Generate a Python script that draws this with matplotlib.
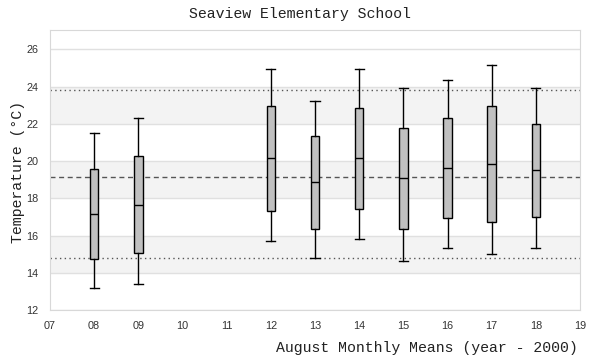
import matplotlib
matplotlib.use("Agg")
import matplotlib.pyplot as plt

years = [8, 9, 12, 13, 14, 15, 16, 17, 18]
whislo = [13.16, 13.38, 15.69, 14.78, 15.80, 14.62, 15.31, 14.99, 15.31]
q1 = [14.72, 15.04, 17.30, 16.33, 17.41, 16.33, 16.92, 16.71, 16.98]
med = [17.16, 17.64, 20.15, 18.86, 20.15, 19.07, 19.63, 19.82, 19.50]
q3 = [19.56, 20.25, 22.94, 21.33, 22.83, 21.76, 22.30, 22.94, 21.97]
whishi = [21.49, 22.30, 24.93, 23.21, 24.93, 23.91, 24.34, 25.14, 23.91]
mean_line = 19.14
lower_line = 14.78
upper_line = 23.80
xticks = list(range(7, 20))
xtick_labels = [f"{v:02d}" for v in xticks]
yticks = list(range(12, 27, 2))
bands = [(14, 16), (18, 20), (22, 24)]

fig = plt.figure(figsize=(6, 3.6), dpi=100)
ax = fig.add_axes([50/600, 50/360, 530/600, 280/360])

for lo, hi in bands:
    ax.axhspan(lo, hi, color="#f3f3f3", zorder=0, lw=0)
for y in yticks:
    ax.axhline(y, color="#e0e0e0", lw=1, zorder=0.5)

ax.axhline(mean_line, color="#555555", lw=1, ls=(0, (3.6, 2.6)), zorder=1)
ax.axhline(lower_line, color="#555555", lw=1, ls=(0, (1, 2.4)), zorder=1)
ax.axhline(upper_line, color="#555555", lw=1, ls=(0, (1, 2.4)), zorder=1)

stats = []
for i in range(len(years)):
    stats.append(dict(whislo=whislo[i], q1=q1[i], med=med[i], q3=q3[i], whishi=whishi[i], fliers=[]))
ax.bxp(stats, positions=years, widths=0.19, patch_artist=True, showfliers=False,
       boxprops=dict(facecolor="#c0c0c0", edgecolor="black", lw=1.0),
       medianprops=dict(color="black", lw=1.0),
       whiskerprops=dict(color="black", lw=1.0),
       capprops=dict(color="black", lw=1.0),
       capwidths=0.21, manage_ticks=False, zorder=3)

ax.set_xlim(7, 19)
ax.set_ylim(12, 27.04)
ax.set_xticks(xticks)
ax.set_xticklabels(xtick_labels)
ax.set_yticks(yticks)
ax.tick_params(length=0, labelsize=7.8, colors="#333333", pad=8.2)
for lab in ax.get_xticklabels() + ax.get_yticklabels():
    lab.set_family("Liberation Sans")
for s in ax.spines.values():
    s.set_color("#d8d8d8")

mono = "Liberation Mono"
fig.text(300/600, 1 - 14/360, "Seaview Elementary School", ha="center", va="center",
         family=mono, fontsize=10.7, color="#222222")
fig.text(18.5/600, 1 - 172/360, "Temperature (°C)", ha="center", va="center", rotation=90,
         family=mono, fontsize=10.7, color="#222222")
fig.text(578/600, 1 - 348/360, "August Monthly Means (year - 2000)", ha="right", va="center",
         family=mono, fontsize=10.7, color="#222222")

fig.savefig("out.png", dpi=100)
